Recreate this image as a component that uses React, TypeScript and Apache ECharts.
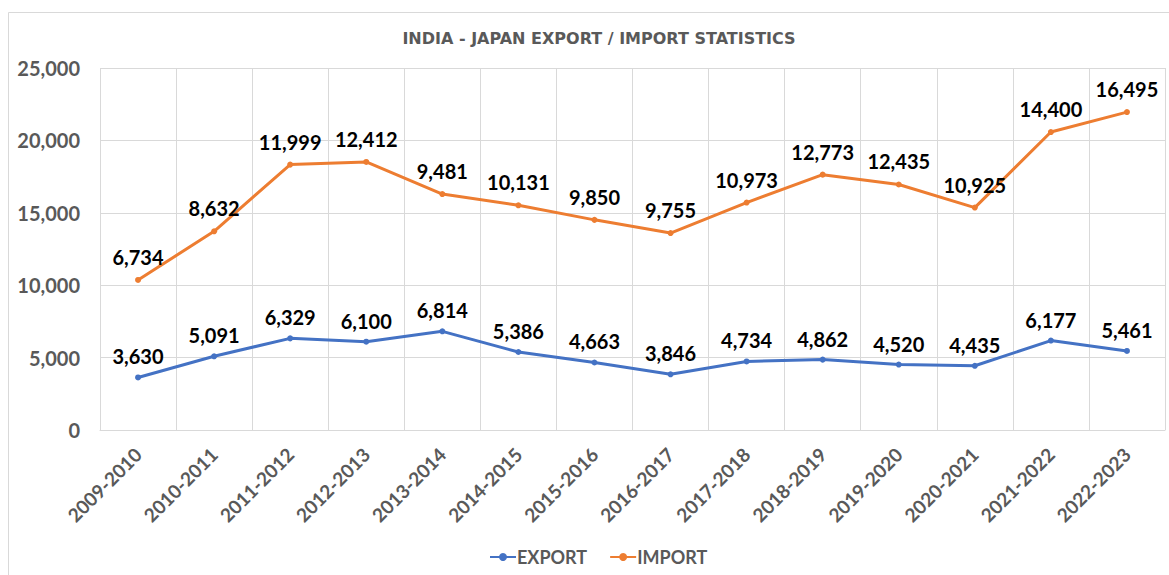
import React, { useEffect, useRef } from "react";
import * as echarts from "echarts";

const categories = [
  "2009-2010", "2010-2011", "2011-2012", "2012-2013", "2013-2014", "2014-2015", "2015-2016",
  "2016-2017", "2017-2018", "2018-2019", "2019-2020", "2020-2021", "2021-2022", "2022-2023",
];
const exportValues = [3630, 5091, 6329, 6100, 6814, 5386, 4663, 3846, 4734, 4862, 4520, 4435, 6177, 5461];
const importValues = [6734, 8632, 11999, 12412, 9481, 10131, 9850, 9755, 10973, 12773, 12435, 10925, 14400, 16495];
const yTicks = { min: 0, max: 25000, interval: 5000 };

const FONT = "Lato, 'Open Sans', sans-serif";
const fmt = (v: number) => Number(v).toLocaleString("en-US");

export default function App() {
  const ref = useRef<HTMLDivElement>(null);
  useEffect(() => {
    const chart = echarts.init(ref.current!, null, { renderer: "svg" });
    chart.setOption({
      animation: false,
      backgroundColor: "#ffffff",
      graphic: [
        {
          type: "rect",
          shape: { x: 8.5, y: 12.5, width: 1200, height: 600 },
          style: { fill: "none", stroke: "#d9d9d9", lineWidth: 1 },
          silent: true,
          z: -1,
        },
      ],
      title: {
        text: "INDIA - JAPAN EXPORT / IMPORT STATISTICS",
        left: 594,
        top: 25,
        textAlign: "center",
        textStyle: { fontFamily: "'DejaVu Sans', sans-serif", fontSize: 16, fontWeight: "bold", color: "#595959" },
      },
      legend: {
        bottom: 4,
        left: 484,
        itemWidth: 26,
        itemHeight: 10,
        itemGap: 22,
        textStyle: { fontFamily: FONT, fontSize: 18, fontWeight: "bold", color: "#595959", padding: [0, 0, 0, -4] },
        data: ["EXPORT", "IMPORT"],
      },
      grid: { left: 100, right: 4, top: 68, bottom: 145, containLabel: false },
      xAxis: {
        type: "category",
        data: categories,
        boundaryGap: true,
        axisLine: { lineStyle: { color: "#d9d9d9", width: 1 } },
        axisTick: { show: false },
        splitLine: { show: true, lineStyle: { color: "#d9d9d9", width: 1 } },
        axisLabel: {
          rotate: 45,
          interval: 0,
          margin: 21,
          fontFamily: FONT,
          fontSize: 19,
          fontWeight: "bold",
          color: "#595959",
        },
      },
      yAxis: {
        type: "value",
        min: yTicks.min,
        max: yTicks.max,
        interval: yTicks.interval,
        axisLine: { show: false },
        axisTick: { show: false },
        splitLine: { show: true, lineStyle: { color: "#d9d9d9", width: 1 } },
        axisLabel: {
          margin: 20,
          fontFamily: FONT,
          fontSize: 20,
          fontWeight: "bold",
          color: "#595959",
          formatter: (v: number) => fmt(v),
        },
      },
      series: [
        {
          name: "EXPORT",
          type: "line",
          stack: "total",
          data: exportValues,
          color: "#4472C4",
          symbol: "circle",
          symbolSize: 6,
          lineStyle: { width: 3, color: "#4472C4" },
          itemStyle: { color: "#4472C4" },
          label: {
            show: true,
            position: "top",
            distance: 8,
            fontFamily: FONT,
            fontSize: 20,
            fontWeight: "bold",
            color: "#000000",
            formatter: (p: any) => fmt(p.value),
          },
        },
        {
          name: "IMPORT",
          type: "line",
          stack: "total",
          data: importValues,
          color: "#ED7D31",
          symbol: "circle",
          symbolSize: 6,
          lineStyle: { width: 3, color: "#ED7D31" },
          itemStyle: { color: "#ED7D31" },
          label: {
            show: true,
            position: "top",
            distance: 10,
            fontFamily: FONT,
            fontSize: 20,
            fontWeight: "bold",
            color: "#000000",
            formatter: (p: any) => fmt(p.value),
          },
        },
      ],
    });
    return () => chart.dispose();
  }, []);
  return (
    <div
      ref={ref}
      style={{ position: "absolute", left: 0, top: 0, width: 1169, height: 575 }}
    />
  );
}
